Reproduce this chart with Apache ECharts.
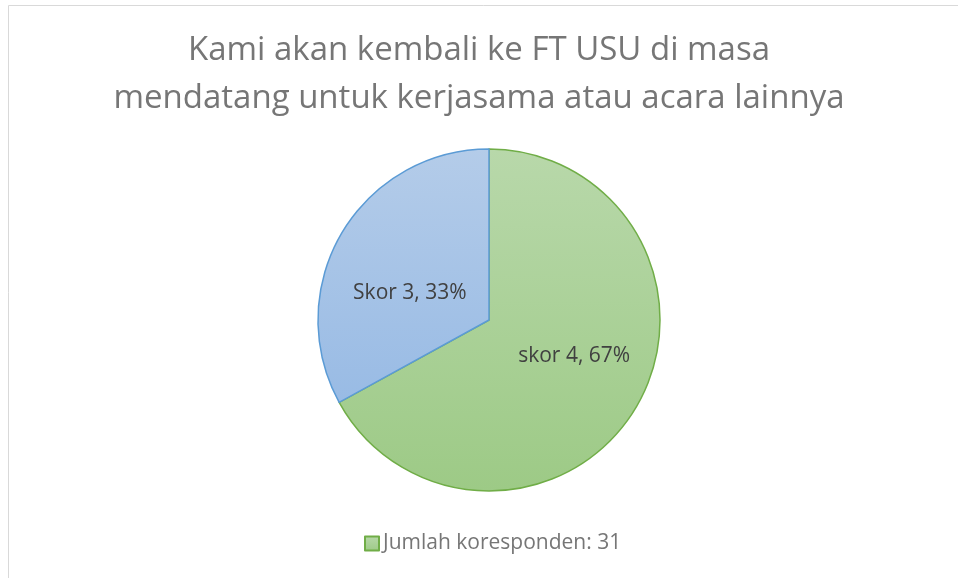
<!DOCTYPE html>
<html>
<head>
<meta charset="utf-8">
<script src="https://cdn.jsdelivr.net/npm/echarts@6/dist/echarts.min.js"></script>
<style>
  html, body { margin: 0; padding: 0; background: #fff; }
  #chart { width: 958px; height: 578px; }
</style>
</head>
<body>
<div id="chart"></div>
<script>
const titleText = 'Kami akan kembali ke FT USU di masa\nmendatang untuk kerjasama atau acara lainnya'
const seriesName = 'Jumlah koresponden: 31'
const categories = ['skor 4', 'Skor 3']
const values = [67, 33]

const fills = [
  { top: '#b8d8aa', bottom: '#9dca86', line: '#70ad47' },
  { top: '#b4cce9', bottom: '#8fb5e3', line: '#5b9bd5' }
]
// nudges so the labels sit where Excel's "best fit" put them
const labelShift = [[9, -9], [-3, 18]]

const chart = echarts.init(document.getElementById('chart'))

const pieTop = 149, pieBottom = 491
const grad = (c) => new echarts.graphic.LinearGradient(0, pieTop, 0, pieBottom, [
  { offset: 0, color: c.top },
  { offset: 1, color: c.bottom }
], true)

const option = {
  animation: false,
  textStyle: { fontFamily: 'Open Sans' },
  title: {
    text: titleText,
    left: 'center',
    top: 22,
    textStyle: {
      fontFamily: 'Open Sans',
      fontSize: 33,
      fontWeight: 'normal',
      lineHeight: 48,
      color: '#767676'
    }
  },
  legend: {
    bottom: 19,
    left: 359,
    icon: 'rect',
    itemWidth: 14,
    itemHeight: 14,
    itemGap: 4,
    selectedMode: false,
    data: [{
      name: categories[0],
      itemStyle: {
        color: new echarts.graphic.LinearGradient(0, 0, 0, 1, [
          { offset: 0, color: fills[0].top },
          { offset: 1, color: fills[0].bottom }
        ]),
        borderColor: fills[0].line,
        borderWidth: 2
      }
    }],
    formatter: () => seriesName,
    textStyle: { fontSize: 21, color: '#767676', padding: [0, 0, 0, -1] }
  },
  graphic: [{
    type: 'rect',
    shape: { x: 8.5, y: 5.5, width: 1000, height: 1000 },
    style: { fill: 'none', stroke: '#d9d9d9', lineWidth: 1 },
    silent: true
  }],
  series: [{
    type: 'pie',
    name: seriesName,
    center: [489, 320],
    radius: 171,
    startAngle: 90,
    clockwise: true,
    data: categories.map((name, i) => ({
      name,
      value: values[i],
      itemStyle: {
        color: grad(fills[i]),
        borderColor: fills[i].line,
        borderWidth: 1.5
      }
    })),
    label: {
      position: 'inside',
      formatter: (p) => p.name + ', ' + Math.round(p.percent) + '%',
      fontSize: 21,
      color: '#404040'
    },
    labelLayout: (p) => ({ dx: labelShift[p.dataIndex][0], dy: labelShift[p.dataIndex][1] }),
    labelLine: { show: false },
    emphasis: { disabled: true }
  }]
}

chart.setOption(option)
</script>
</body>
</html>
